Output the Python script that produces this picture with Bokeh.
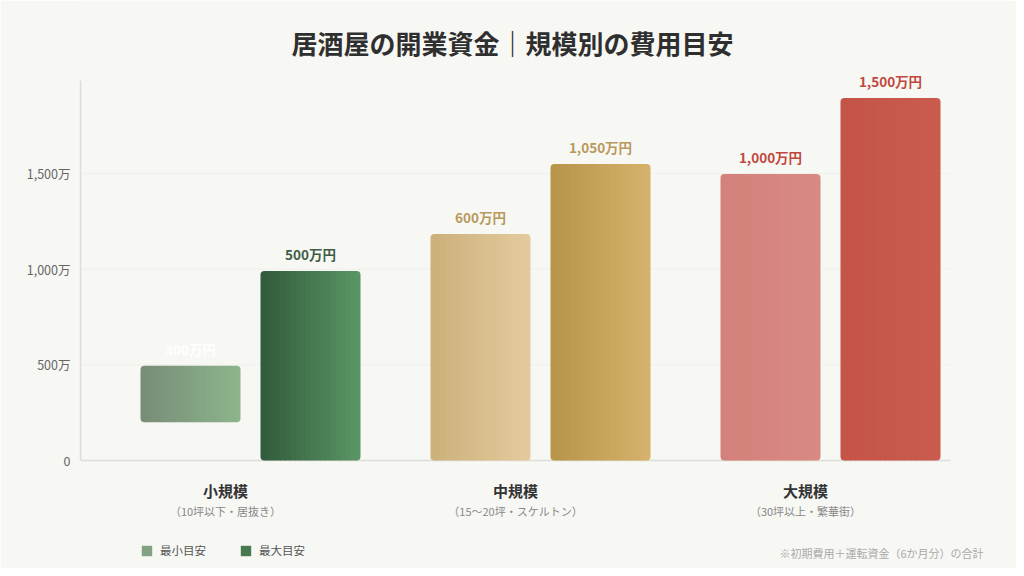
import numpy as np
from bokeh.plotting import figure
from bokeh.models import Range1d, FixedTicker, Label, LabelSet, ColumnDataSource, Legend, LegendItem
from bokeh.core.properties import value
from bokeh.embed import file_html
from bokeh.resources import INLINE

# ---------------- data ----------------
scales = ["小規模", "中規模", "大規模"]
scale_notes = ["（10坪以下・居抜き）", "（15〜20坪・スケルトン）", "（30坪以上・繁華街）"]
series_names = ["最小目安", "最大目安"]
min_bottom = [200, 0, 0]
min_top = [495, 1183, 1497]
max_bottom = [0, 0, 0]
max_top = [990, 1549, 1894]
min_labels = ["300万円", "600万円", "1,000万円"]
max_labels = ["500万円", "1,050万円", "1,500万円"]
ytick_values = [0, 500, 1000, 1500]
ytick_labels = ["0", "500万", "1,000万", "1,500万"]
y_axis_max = 1985
title_text = "居酒屋の開業資金｜規模別の費用目安"
note_text = "※初期費用＋運転資金（6か月分）の合計"

# ---------------- styles ----------------
FONT = "'Noto Sans CJK JP', 'Noto Sans', sans-serif"
BG = "#f7f7f4"
min_grad = [("#788c77", "#8db58c"), ("#cbb07a", "#e4cb9e"), ("#d3817a", "#d88a82")]
max_grad = [("#325a3b", "#5a9665"), ("#b8944a", "#d6b26c"), ("#c55448", "#ca5b4f")]
min_label_colors = ["#ffffff", "#b8995c", "#c0483e"]
max_label_colors = ["#3f5c46", "#b8995c", "#c0483e"]
AXIS_COLOR = "#dcdcd8"

# ---------------- geometry (screen px) ----------------
W, H = 1016, 568
BL, BR = 80, 16                # frame spans whole height, left edge at the y-axis line
GROUP_PX = 290                 # px between groups
G0_PX = 250                    # px of first group centre
BASE_PX = 460                  # px row of value 0
UNIT_PER_PX = 500 / 95.7       # value units per px
X0 = (BL - G0_PX) / GROUP_PX
X1 = (W - BR - G0_PX) / GROUP_PX
PLOT_RIGHT = (950 - G0_PX) / GROUP_PX
Y1 = BASE_PX * UNIT_PER_PX
Y0 = -(H - BASE_PX) * UNIT_PER_PX
PX = 1 / GROUP_PX
BAR_W = 100 * PX
OFF = 60 * PX
N = 20

p = figure(width=W, height=H, output_backend="svg", toolbar_location=None,
           x_range=Range1d(X0, X1), y_range=Range1d(Y0, Y1), x_axis_location=None,
           min_border_left=BL, min_border_right=BR, min_border_top=0, min_border_bottom=0,
           background_fill_color=BG, border_fill_color=BG, outline_line_color=None)

# y axis (native)
p.yaxis.ticker = FixedTicker(ticks=ytick_values)
p.yaxis.bounds = (0, y_axis_max)
p.yaxis.major_label_overrides = {v: t for v, t in zip(ytick_values, ytick_labels)}
p.yaxis.major_label_text_font = FONT
p.yaxis.major_label_text_font_size = "12.5px"
p.yaxis.major_label_text_color = "#666666"
p.yaxis.major_label_standoff = 4
p.yaxis.major_tick_line_color = None
p.yaxis.minor_tick_line_color = None
p.yaxis.axis_line_color = AXIS_COLOR
p.yaxis.axis_line_width = 1.5
p.xgrid.visible = False
p.ygrid.visible = False

# faint gridlines + baseline across the plot area
p.segment(x0=[X0] * 3, x1=[PLOT_RIGHT] * 3, y0=ytick_values[1:], y1=ytick_values[1:],
          line_color="#efefeb", line_width=1)
p.segment(x0=[X0], x1=[PLOT_RIGHT], y0=[0], y1=[0], line_color=AXIS_COLOR, line_width=1.5)


def mix(c0, c1, t):
    a = np.array([int(c0[i:i + 2], 16) for i in (1, 3, 5)])
    b = np.array([int(c1[i:i + 2], 16) for i in (1, 3, 5)])
    c = np.round(a + (b - a) * t).astype(int)
    return "#%02x%02x%02x" % tuple(c)


def bar_parts(centres, bottoms, tops, grads):
    parts = {k: dict(left=[], right=[], top=[], bottom=[], color=[]) for k in ("first", "mid", "last")}
    for xc, bottom, top, (c0, c1) in zip(centres, bottoms, tops, grads):
        edges = np.linspace(xc - BAR_W / 2, xc + BAR_W / 2, N + 1)
        for i in range(N):
            key = "first" if i == 0 else ("last" if i == N - 1 else "mid")
            d = parts[key]
            d["left"].append(edges[i])
            d["right"].append(edges[i + 1] + (0.6 * PX if i < N - 1 else 0))
            d["top"].append(top)
            d["bottom"].append(bottom)
            d["color"].append(mix(c0, c1, (i + 0.5) / N))
    return parts


groups = list(range(len(scales)))
series = [
    bar_parts([g - OFF for g in groups], min_bottom, min_top, min_grad),
    bar_parts([g + OFF for g in groups], max_bottom, max_top, max_grad),
]
mid_renderers = []
for parts in series:
    r = p.quad(source=ColumnDataSource(parts["mid"]), left="left", right="right", top="top",
               bottom="bottom", fill_color="color", line_color=None)
    mid_renderers.append(r)
    p.quad(source=ColumnDataSource(parts["first"]), left="left", right="right", top="top", bottom="bottom",
           fill_color="color", line_color=None, border_radius=(4, 0, 0, 4))
    p.quad(source=ColumnDataSource(parts["last"]), left="left", right="right", top="top", bottom="bottom",
           fill_color="color", line_color=None, border_radius=(0, 4, 4, 0))

# value labels
lab_src = ColumnDataSource(dict(
    x=[g - OFF for g in groups] + [g + OFF for g in groups],
    y=min_top + max_top,
    text=min_labels + max_labels,
    color=min_label_colors + max_label_colors,
))
p.add_layout(LabelSet(x="x", y="y", text="text", source=lab_src, text_color="color",
                      text_font=value(FONT), text_font_size=value("13.5px"),
                      text_font_style=value("bold"),
                      text_align=value("center"), text_baseline=value("bottom"), y_offset=7))

# category labels
for g in groups:
    p.add_layout(Label(x=g, y=0, x_offset=-25, y_offset=-30, text=scales[g], text_font=FONT,
                       text_font_size="15px", text_font_style="bold", text_color="#333333",
                       text_align="center", text_baseline="middle"))
    p.add_layout(Label(x=g, y=0, x_offset=-25, y_offset=-50, text=scale_notes[g], text_font=FONT,
                       text_font_size="11px", text_color="#888888",
                       text_align="center", text_baseline="middle"))

# title
p.add_layout(Label(x=X0, y=0, x_offset=512 - BL, y_offset=BASE_PX - 42, text=title_text, text_font=FONT,
                   text_font_size="26px", text_font_style="bold", text_color="#2f2f2f",
                   text_align="center", text_baseline="middle"))

# note
p.add_layout(Label(x=PLOT_RIGHT, y=0, x_offset=33, y_offset=-(552 - BASE_PX), text=note_text, text_font=FONT,
                   text_font_size="11px", text_color="#aaaaaa",
                   text_align="right", text_baseline="middle"))

# legend (swatch colour taken from the middle of the first bar of each series)
legend = Legend(items=[LegendItem(label=series_names[k], renderers=[mid_renderers[k]], index=N // 2 - 1)
                       for k in range(2)],
                location=(140 - BL, H - 558), orientation="horizontal",
                glyph_width=13, glyph_height=13, label_height=14, label_standoff=7, spacing=33,
                padding=0, margin=0, border_line_color=None, background_fill_alpha=0,
                label_text_font=FONT, label_text_font_size="11.5px", label_text_color="#555555")
p.add_layout(legend)

open("out.html", "w").write(file_html(p, INLINE))
